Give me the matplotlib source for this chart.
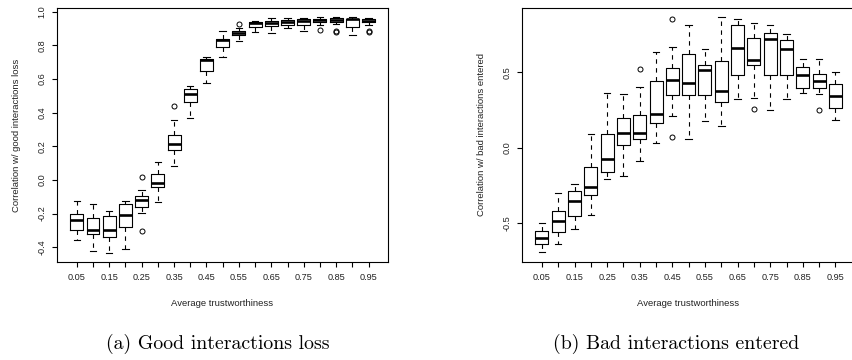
import matplotlib.pyplot as plt

# average trustworthiness bins, one box per bin
trust = [0.05, 0.10, 0.15, 0.20, 0.25, 0.30, 0.35, 0.40, 0.45, 0.50,
         0.55, 0.60, 0.65, 0.70, 0.75, 0.80, 0.85, 0.90, 0.95]
tick_labels = ['0.05', '', '0.15', '', '0.25', '', '0.35', '', '0.45', '',
               '0.55', '', '0.65', '', '0.75', '', '0.85', '', '0.95']

# (a) good interactions loss
good_whislo = [-0.360, -0.420, -0.432, -0.412, -0.194, -0.130, 0.084, 0.370, 0.577, 0.728,
               0.823, 0.877, 0.873, 0.902, 0.883, 0.918, 0.926, 0.859, 0.922]
good_q1 = [-0.297, -0.321, -0.342, -0.281, -0.162, -0.043, 0.176, 0.466, 0.646, 0.791,
           0.859, 0.912, 0.914, 0.918, 0.922, 0.938, 0.938, 0.910, 0.938]
good_med = [-0.241, -0.297, -0.297, -0.209, -0.118, -0.019, 0.213, 0.511, 0.710, 0.831,
            0.875, 0.930, 0.934, 0.938, 0.942, 0.950, 0.950, 0.954, 0.946]
good_q3 = [-0.201, -0.225, -0.217, -0.146, -0.094, 0.033, 0.269, 0.541, 0.716, 0.839,
           0.883, 0.938, 0.946, 0.950, 0.954, 0.958, 0.960, 0.958, 0.954]
good_whishi = [-0.126, -0.142, -0.182, -0.124, -0.059, 0.104, 0.358, 0.557, 0.728, 0.885,
               0.906, 0.946, 0.964, 0.960, 0.962, 0.966, 0.968, 0.966, 0.964]
good_fliers = [[], [], [], [], [0.015, -0.303], [], [0.438], [], [], [],
               [0.928], [], [], [], [], [0.894], [0.886, 0.878], [], [0.886, 0.878]]

# (b) bad interactions entered
bad_whislo = [-0.696, -0.638, -0.543, -0.448, -0.208, -0.186, -0.089, 0.029, 0.213, 0.060,
              0.180, 0.146, 0.324, 0.333, 0.248, 0.326, 0.364, 0.355, 0.184]
bad_q1 = [-0.643, -0.561, -0.457, -0.313, -0.160, 0.018, 0.055, 0.162, 0.350, 0.348,
          0.348, 0.302, 0.486, 0.548, 0.483, 0.483, 0.395, 0.397, 0.262]
bad_med = [-0.598, -0.488, -0.357, -0.262, -0.075, 0.095, 0.100, 0.226, 0.450, 0.428,
           0.517, 0.379, 0.663, 0.583, 0.725, 0.656, 0.483, 0.446, 0.344]
bad_q3 = [-0.552, -0.423, -0.288, -0.126, 0.091, 0.199, 0.219, 0.443, 0.528, 0.623,
          0.550, 0.579, 0.816, 0.727, 0.765, 0.714, 0.534, 0.492, 0.421]
bad_whishi = [-0.499, -0.299, -0.239, 0.091, 0.366, 0.357, 0.406, 0.634, 0.670, 0.818,
              0.654, 0.865, 0.856, 0.831, 0.814, 0.754, 0.590, 0.592, 0.506]
bad_fliers = [[], [], [], [], [], [], [0.525], [], [0.854, 0.073], [],
              [], [], [], [0.255], [], [], [], [0.248], []]

W, H = 853, 360
plt.rcParams['font.family'] = ['Liberation Sans', 'DejaVu Sans']
TXT = '#222222'


def make_stats(whislo, q1, med, q3, whishi, fliers):
    stats = []
    for i in range(len(med)):
        stats.append({'whislo': whislo[i], 'q1': q1[i], 'med': med[i], 'q3': q3[i],
                      'whishi': whishi[i], 'fliers': fliers[i]})
    return stats


def draw_panel(ax, stats, yticks, ylim):
    pos = list(range(1, len(stats) + 1))
    ax.bxp(stats, positions=pos, widths=0.8, capwidths=0.4, patch_artist=False,
           boxprops=dict(color='black', linewidth=0.8),
           medianprops=dict(color='black', linewidth=1.9, solid_capstyle='butt'),
           whiskerprops=dict(color='black', linewidth=0.8, linestyle=(0, (4, 4))),
           capprops=dict(color='black', linewidth=0.8),
           flierprops=dict(marker='o', markerfacecolor='none', markeredgecolor='black',
                           markersize=3.6, markeredgewidth=0.7))
    ax.set_xlim(-0.22, 20.2)
    ax.set_ylim(*ylim)
    ax.set_xticks(pos)
    ax.set_xticklabels(tick_labels)
    ax.set_yticks(yticks)
    ax.set_yticklabels(['%.1f' % v for v in yticks], rotation=90, va='center')
    ax.tick_params(direction='out', length=3.6, width=0.8, labelsize=6.6,
                   labelcolor=TXT, pad=4)
    for s in ax.spines.values():
        s.set_linewidth(0.8)


fig = plt.figure(figsize=(W / 100, H / 100), dpi=100)

ax1 = fig.add_axes([57 / W, 1 - 262 / H, 331 / W, 254 / H])
draw_panel(ax1, make_stats(good_whislo, good_q1, good_med, good_q3, good_whishi, good_fliers),
           [-0.4, -0.2, 0.0, 0.2, 0.4, 0.6, 0.8, 1.0], (-0.488, 1.022))

ax2 = fig.add_axes([522 / W, 1 - 262 / H, 333 / W, 254 / H])
draw_panel(ax2, make_stats(bad_whislo, bad_q1, bad_med, bad_q3, bad_whishi, bad_fliers),
           [-0.5, 0.0, 0.5], (-0.760, 0.928))

fig.text(17 / W, 1 - 135 / H, 'Correlation w/ good interactions loss', rotation=90,
         ha='center', va='center', fontsize=6.8, color=TXT)
fig.text(482 / W, 1 - 135 / H, 'Correlation w/ bad interactions entered', rotation=90,
         ha='center', va='center', fontsize=6.8, color=TXT)
fig.text(222 / W, 1 - 303 / H, 'Average trustworthiness', ha='center', va='center',
         fontsize=6.8, color=TXT)
fig.text(688 / W, 1 - 303 / H, 'Average trustworthiness', ha='center', va='center',
         fontsize=6.8, color=TXT)

fig.text(218 / W, 1 - 344 / H, '(a) Good interactions loss', ha='center', va='center',
         fontsize=14.3, family='cmr10')
fig.text(676 / W, 1 - 344 / H, '(b) Bad interactions entered', ha='center', va='center',
         fontsize=14.3, family='cmr10')

fig.savefig('out.png', dpi=100)
